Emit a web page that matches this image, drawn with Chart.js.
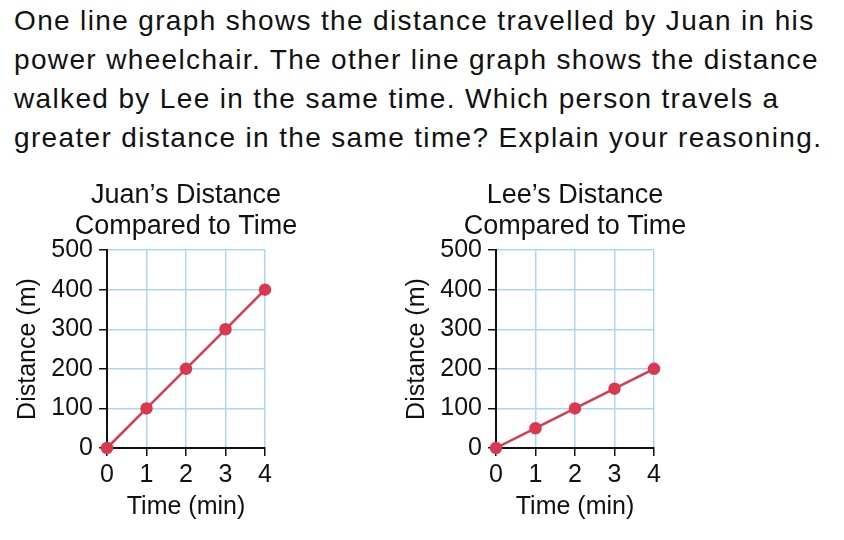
<!DOCTYPE html>
<html>
<head>
<meta charset="utf-8">
<script src="https://cdn.jsdelivr.net/npm/chart.js@4"></script>
<style>
  html, body { margin: 0; padding: 0; background: #fff; }
  body { width: 844px; height: 540px; position: relative; overflow: hidden; font-family: "Liberation Sans", Arial, sans-serif; }
  #question { position: absolute; left: 14px; top: 1px; width: 830px; font-size: 28px; letter-spacing: 1.35px; line-height: 39px; color: #111; white-space: nowrap; }
  .box { position: absolute; top: 170px; width: 372px; height: 360px; }
  #juanBox { left: 0; }
  #leeBox { left: 389px; }
</style>
</head>
<body>
<div id="question">One line graph shows the distance travelled by Juan in his<br>power wheelchair. The other line graph shows the distance<br>walked by Lee in the same time. Which person travels a<br>greater distance in the same time? Explain your reasoning.</div>
<div class="box" id="juanBox"><canvas id="juanChart" width="372" height="360"></canvas></div>
<div class="box" id="leeBox"><canvas id="leeChart" width="372" height="360"></canvas></div>
<script>
// chart data
const timeMin = [0, 1, 2, 3, 4];
const juanDistance = [0, 100, 200, 300, 400];
const leeDistance = [0, 50, 100, 150, 200];
const juanTitle = ['Juan\u2019s Distance', 'Compared to Time'];
const leeTitle = ['Lee\u2019s Distance', 'Compared to Time'];
const yTitle = 'Distance (m)';
const xTitle = 'Time (min)';

const FONT = '"Liberation Sans", Arial, sans-serif';
const INK = '#111';
const GRID = '#a9d8f6';
const RED = '#d8394f';

function makeChart(id, titleLines, values) {
  const ctx = document.getElementById(id);
  return new Chart(ctx, {
    type: 'line',
    data: {
      datasets: [{
        data: timeMin.map((t, i) => ({ x: t, y: values[i] })),
        borderColor: RED,
        backgroundColor: RED,
        borderWidth: 2.5,
        pointRadius: 5,
        pointHoverRadius: 5,
        tension: 0,
        clip: false
      }]
    },
    options: {
      responsive: false,
      animation: false,
      devicePixelRatio: 1,
      layout: { padding: 0 },
      plugins: {
        legend: { display: false },
        tooltip: { enabled: false },
        title: {
          display: true,
          text: titleLines,
          color: INK,
          font: { family: FONT, size: 27, weight: 'normal', lineHeight: 1.15 },
          padding: { top: 10, bottom: 8 }
        }
      },
      scales: {
        x: {
          type: 'linear',
          min: 0,
          max: 4,
          afterFit: (scale) => { scale.height = 82; },
          ticks: { stepSize: 1, color: INK, padding: 4, font: { family: FONT, size: 25 } },
          grid: { color: GRID, lineWidth: 1.5, tickColor: INK, tickLength: 8, tickWidth: 1.5 },
          border: { color: INK, width: 2 },
          title: {
            display: true, text: xTitle, color: INK,
            font: { family: FONT, size: 25, lineHeight: 1.2 },
            padding: { top: 0, bottom: 8 }
          }
        },
        y: {
          min: 0,
          max: 500,
          afterFit: (scale) => { scale.width = 107; },
          ticks: { stepSize: 100, color: INK, padding: 6, font: { family: FONT, size: 25 } },
          grid: { color: GRID, lineWidth: 1.5, tickColor: INK, tickLength: 8, tickWidth: 1.5 },
          border: { color: INK, width: 2 },
          title: {
            display: true, text: yTitle, color: INK,
            font: { family: FONT, size: 25, lineHeight: 1.2 },
            padding: { top: 13, bottom: 0 }
          }
        },
        // empty right-hand spacer so the title centres over the plot
        spacer: {
          position: 'right',
          min: 0,
          max: 500,
          afterFit: (scale) => { scale.width = 107; },
          ticks: { display: false },
          grid: { display: false, drawTicks: false },
          border: { display: false }
        }
      }
    }
  });
}

makeChart('juanChart', juanTitle, juanDistance);
makeChart('leeChart', leeTitle, leeDistance);
</script>
</body>
</html>
